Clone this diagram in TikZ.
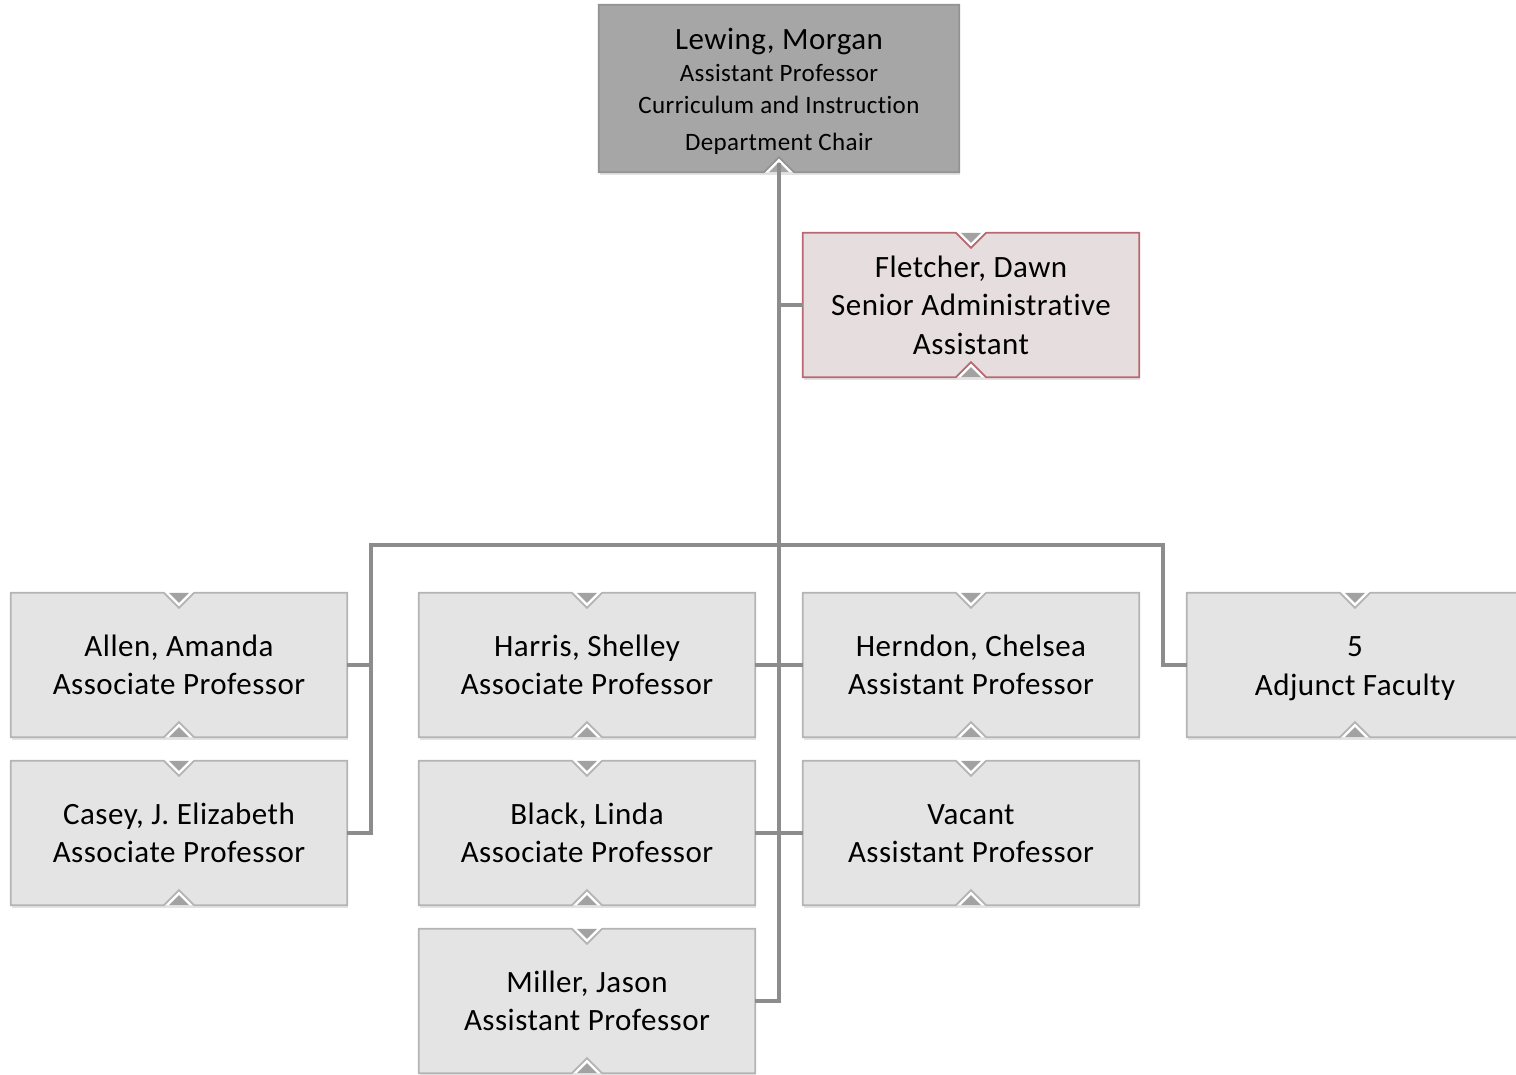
\documentclass[tikz,border=0pt]{standalone}
\usepackage{fontspec}
\setmainfont{Carlito}[Ligatures=NoCommon, LetterSpace=1.6]
\usetikzlibrary{calc,shadows}
\definecolor{boxfill}{HTML}{E4E4E4}
\definecolor{boxline}{HTML}{B4B4B4}
\definecolor{topfill}{HTML}{A6A6A6}
\definecolor{topline}{HTML}{939393}
\definecolor{pinkfill}{HTML}{E6DEDE}
\definecolor{pinkline}{HTML}{B86870}
\definecolor{notchgray}{HTML}{A2A2A2}
\definecolor{conngray}{HTML}{8C8C8C}
\begin{document}
\begin{tikzpicture}[x=1pt,y=-1pt,
  cardbase/.style={rectangle, inner sep=0pt, align=center,
    drop shadow={shadow xshift=1pt, shadow yshift=-3pt, opacity=0.22}},
  card/.style={cardbase, minimum width=336pt, minimum height=144pt, fill=boxfill,
    font=\fontsize{31}{38.5}\selectfont},
  pinkcard/.style={card, fill=pinkfill},
  topcard/.style={cardbase, minimum width=360pt, minimum height=167pt, fill=topfill,
    font=\fontsize{25}{32}\selectfont},
  conn/.style={draw=conngray, line width=3.5pt, line join=miter},
  rim/.style={fill=white},
]
\useasboundingbox (0,0) rectangle (1516,1075);
\clip (0,0) rectangle (1516,1075);

% nodes
\node[topcard] (top) at (779,88.5) {{\fontsize{31}{38}\selectfont\rule{0pt}{27pt}Lewing, Morgan}\\Assistant Professor\\Curriculum and Instruction\\[5pt]Department Chair};
\node[pinkcard] (fletcher) at (971,305) {Fletcher, Dawn\\Senior Administrative\\Assistant};
\node[card] (allen) at (179,665) {Allen, Amanda\\Associate Professor};
\node[card] (casey) at (179,833) {Casey, J. Elizabeth\\Associate Professor};
\node[card] (harris) at (587,665) {Harris, Shelley\\Associate Professor};
\node[card] (black) at (587,833) {Black, Linda\\Associate Professor};
\node[card] (miller) at (587,1001) {Miller, Jason\\Assistant Professor};
\node[card] (herndon) at (971,665) {Herndon, Chelsea\\Assistant Professor};
\node[card] (vacant) at (971,833) {\vphantom{l}Vacant\\Assistant Professor};
\node[card] (adjunct) at (1355,665) {\vphantom{l}5\\\smash{Adjunct Faculty}};

% outlines and notches of the cards
\foreach \n/\lc in {fletcher/pinkline, allen/boxline, casey/boxline, harris/boxline,
    black/boxline, miller/boxline, herndon/boxline, vacant/boxline, adjunct/boxline}{
  \fill[rim] ($(\n.north)+(-14,0)$) -- ($(\n.north)+(0,14)$) -- ($(\n.north)+(14,0)$) -- cycle;
  \fill[rim] ($(\n.south)+(-14,0)$) -- ($(\n.south)+(0,-14)$) -- ($(\n.south)+(14,0)$) -- cycle;
  \fill[notchgray] ($(\n.north)+(-10,0)$) -- ($(\n.north)+(0,10)$) -- ($(\n.north)+(10,0)$) -- cycle;
  \fill[notchgray] ($(\n.south)+(-10,0)$) -- ($(\n.south)+(0,-10)$) -- ($(\n.south)+(10,0)$) -- cycle;
  \draw[draw=\lc, line width=1.8pt, line join=miter]
    (\n.north west) -- ($(\n.north)+(-15,0)$) -- ($(\n.north)+(0,15)$) -- ($(\n.north)+(15,0)$)
    -- (\n.north east) -- (\n.south east) -- ($(\n.south)+(15,0)$) -- ($(\n.south)+(0,-15)$)
    -- ($(\n.south)+(-15,0)$) -- (\n.south west) -- cycle;
}
% root outline with its lower notch
\fill[rim] ($(top.south)+(-14,0)$) -- ($(top.south)+(0,-14)$) -- ($(top.south)+(14,0)$) -- cycle;
\fill[topfill] ($(top.south)+(-10,0)$) -- ($(top.south)+(0,-10)$) -- ($(top.south)+(10,0)$) -- cycle;
\draw[draw=topline, line width=1.8pt, line join=miter]
  (top.north west) -- (top.north east) -- (top.south east) -- ($(top.south)+(15,0)$)
  -- ($(top.south)+(0,-15)$) -- ($(top.south)+(-15,0)$) -- (top.south west) -- cycle;

% connectors
\coordinate (barL) at (371,545);
\coordinate (barR) at (1163,545);
\coordinate (rootnotch) at ($(top.south)+(0,-9)$);
\draw[conn] (miller.east) -| (rootnotch);
\draw[conn] (fletcher.west) -- (fletcher.west -| top.south);
\draw[conn] (allen.east) -| (barL) -- (barR) |- (adjunct.west);
\draw[conn] (casey.east) -| (barL);
\draw[conn] (harris.east) -- (herndon.west);
\draw[conn] (black.east) -- (vacant.west);
\end{tikzpicture}
\end{document}
